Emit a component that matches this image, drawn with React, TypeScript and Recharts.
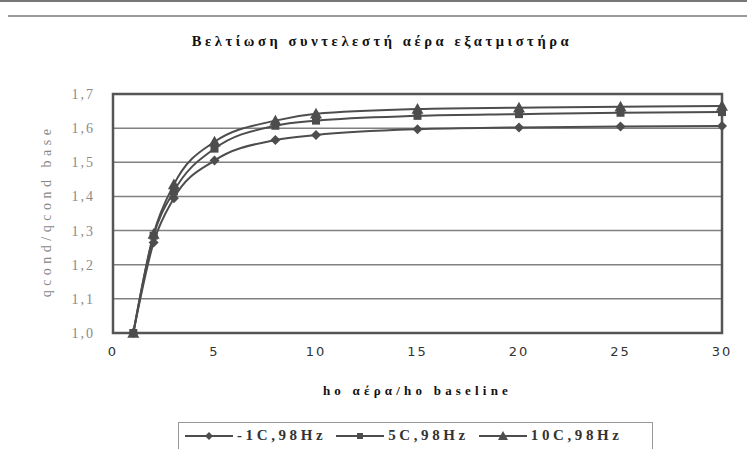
import React from 'react'
import {
  LineChart,
  Line,
  XAxis,
  YAxis,
  CartesianGrid,
  ReferenceArea
} from 'recharts'

const hRatio = [1, 2, 3, 5, 8, 10, 15, 20, 25, 30]
const minus1C = [1.0, 1.265, 1.395, 1.505, 1.565, 1.58, 1.597, 1.602, 1.605, 1.606]
const plus5C = [1.0, 1.285, 1.415, 1.54, 1.607, 1.622, 1.636, 1.641, 1.645, 1.647]
const plus10C = [1.0, 1.29, 1.435, 1.56, 1.622, 1.642, 1.656, 1.66, 1.663, 1.665]
const xTicks = [0, 5, 10, 15, 20, 25, 30]
const yTicks = [1.0, 1.1, 1.2, 1.3, 1.4, 1.5, 1.6, 1.7]

const series = [
  { key: 'm1', name: '-1C,98Hz', shape: 'diamond' },
  { key: 'p5', name: '5C,98Hz', shape: 'square' },
  { key: 'p10', name: '10C,98Hz', shape: 'triangle' }
]

const data = hRatio.map((h, i) => ({
  h,
  m1: minus1C[i],
  p5: plus5C[i],
  p10: plus10C[i]
}))

const INK = '#4d4d4d'
const serif = '"Liberation Serif", "DejaVu Serif", serif'

function Marker({ cx, cy, shape, size = 5 }: { cx: number; cy: number; shape: string; size?: number }) {
  if (cx == null || cy == null) return null
  if (shape === 'diamond') {
    const s = size
    return <polygon points={`${cx},${cy - s} ${cx + s},${cy} ${cx},${cy + s} ${cx - s},${cy}`} fill={INK} />
  }
  if (shape === 'square') {
    const s = size - 1
    return <rect x={cx - s} y={cy - s} width={s * 2} height={s * 2} fill={INK} />
  }
  const s = size + 1
  return <polygon points={`${cx},${cy - s} ${cx + s},${cy + s * 0.8} ${cx - s},${cy + s * 0.8}`} fill={INK} />
}

function LegendBox() {
  return (
    <div
      style={{
        display: 'flex',
        alignItems: 'center',
        gap: 10,
        borderTop: '1px solid #999',
        borderLeft: '1px solid #999',
        borderRight: '1px solid #999',
        padding: '4px 6px 8px',
        width: 475,
        boxSizing: 'border-box',
        fontFamily: serif,
        fontWeight: 'bold',
        fontSize: 15,
        letterSpacing: 3.6,
        color: '#333'
      }}
    >
      {series.map((s) => (
        <div key={s.key} style={{ display: 'flex', alignItems: 'center', gap: 4 }}>
          <svg width={48} height={12}>
            <line x1={0} y1={6} x2={48} y2={6} stroke={INK} strokeWidth={2} />
            <Marker cx={24} cy={6} shape={s.shape} size={4} />
          </svg>
          <span>{s.name}</span>
        </div>
      ))}
    </div>
  )
}

export default function App() {
  return (
    <div style={{ position: 'fixed', left: 0, top: 0, width: 747, height: 449, background: '#fff', overflow: 'hidden' }}>
      <div style={{ position: 'absolute', left: 0, top: 0, width: 747, height: 2, background: '#777' }} />
      <div style={{ position: 'absolute', left: 8, top: 15, width: 739, height: 2, background: '#9a9a9a' }} />
      <div
        style={{
          position: 'absolute',
          left: 0,
          top: 33,
          width: 764,
          textAlign: 'center',
          fontFamily: serif,
          fontWeight: 'bold',
          fontSize: 14.5,
          letterSpacing: 3.6,
          color: '#111'
        }}
      >
        Βελτίωση συντελεστή αέρα εξατμιστήρα
      </div>
      <div
        style={{
          position: 'absolute',
          left: 47,
          top: 211,
          transform: 'translate(-50%, -50%) rotate(-90deg)',
          whiteSpace: 'nowrap',
          fontFamily: serif,
          fontSize: 14,
          letterSpacing: 4.5,
          color: '#888'
        }}
      >
        qcond/qcond base
      </div>
      <div
        style={{
          position: 'absolute',
          left: 113,
          top: 383,
          width: 609,
          textAlign: 'center',
          fontFamily: serif,
          fontWeight: 'bold',
          fontSize: 13,
          letterSpacing: 4.2,
          color: '#111'
        }}
      >
        ho αέρα/ho baseline
      </div>
      <div style={{ position: 'absolute', left: 178, top: 422 }}>
        <LegendBox />
      </div>
      <div style={{ position: 'absolute', left: 0, top: 0 }}>
        <LineChart width={747} height={449} data={data} margin={{ top: 94, right: 25, bottom: 86, left: 63 }}>
          <CartesianGrid horizontal vertical={false} stroke="#808080" strokeWidth={1.5} />
          <XAxis
            dataKey="h"
            type="number"
            domain={[0, 30]}
            ticks={xTicks}
            tickLine={false}
            axisLine={false}
            tickSize={0}
            tickMargin={14}
            tick={{ fontSize: 13, fill: '#333', fontFamily: '"DejaVu Sans", sans-serif', letterSpacing: 2 }}
          />
          <YAxis
            type="number"
            domain={[1, 1.7]}
            ticks={yTicks}
            width={50}
            tickLine={false}
            axisLine={false}
            tickSize={0}
            tickMargin={18}
            tickFormatter={(v: number) => v.toFixed(1).replace('.', ',')}
            tick={{ fontSize: 14, fill: '#8a8a8a', fontFamily: serif, letterSpacing: 2 }}
          />
          <ReferenceArea x1={0} x2={30} y1={1} y2={1.7} fill="none" stroke="#555" strokeWidth={2.5} ifOverflow="visible" />
          {series.map((s) => (
            <Line
              key={s.key}
              dataKey={s.key}
              name={s.name}
              type="monotone"
              stroke={INK}
              strokeWidth={2}
              dot={(p: any) => <Marker key={`${s.key}-${p.index}`} cx={p.cx} cy={p.cy} shape={s.shape} />}
              isAnimationActive={false}
            />
          ))}
        </LineChart>
      </div>
    </div>
  )
}
